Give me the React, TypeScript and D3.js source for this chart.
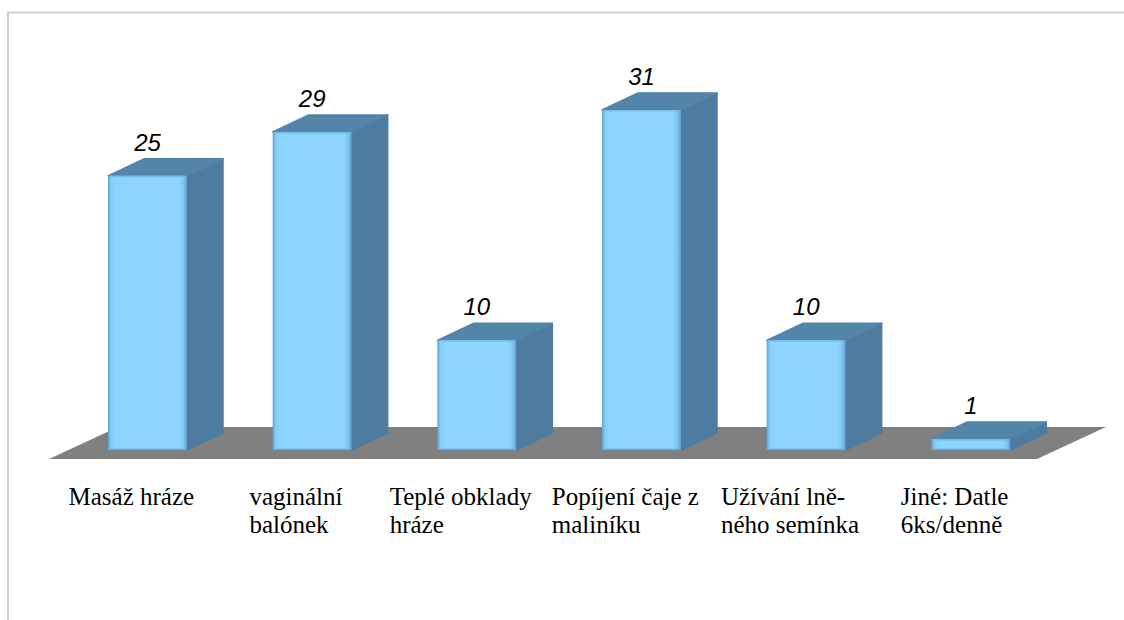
import React from "react";
import * as d3 from "d3";

// categories (wrapped lines as in the chart) and values
const categories = [
  ["Masáž hráze"],
  ["vaginální", "balónek"],
  ["Teplé obklady", "hráze"],
  ["Popíjení čaje z", "maliníku"],
  ["Užívání lně-", "ného semínka"],
  ["Jiné: Datle", "6ks/denně"],
];
const values = [25, 29, 10, 31, 10, 1];

const W = 1124;
const H = 620;

// floor + bar geometry
const floorFrontY = 459, floorBackY = 427;
const floorLeft = 49, floorRight = 1037;
const floorDx = 69;
const depthDx = 36, depthDy = 17;
const barShift = 19;
const barOffset = 40, barW = 79;

const LABEL_FONT = "Liberation Serif";
const LABEL_SIZE = 25;

const idx = categories.map((_, i) => String(i));
const x = d3.scaleBand().domain(idx).range([floorLeft, floorRight]);
const y = d3.scaleLinear().domain([0, 31]).range([450, 110]);

// measure with a canvas so the svg text is never laid out early
function textWidth(s: string) {
  const c = document.createElement("canvas").getContext("2d");
  if (!c) return s.length * LABEL_SIZE * 0.45;
  c.font = `${LABEL_SIZE}px "${LABEL_FONT}"`;
  return c.measureText(s).width;
}

export default function App() {
  const floor = `M${floorLeft},${floorFrontY}L${floorRight},${floorFrontY}L${floorRight + floorDx},${floorBackY}L${floorLeft + floorDx},${floorBackY}Z`;

  return (
    <svg width={W} height={H} style={{ position: "absolute", left: 0, top: 0, background: "#fff" }}>
      <defs>
        <linearGradient id="front" x1="0" x2="1" y1="0" y2="0">
          <stop offset="0%" stopColor="#5aa3d8" />
          <stop offset="4%" stopColor="#86cdf8" />
          <stop offset="10%" stopColor="#8dd4fe" />
          <stop offset="90%" stopColor="#8dd4fe" />
          <stop offset="96%" stopColor="#80c4ee" />
          <stop offset="100%" stopColor="#5c9cc9" />
        </linearGradient>
      </defs>
      <rect x={8} y={12.5} width={1300} height={800} fill="#fff" stroke="#d0d0d0" strokeWidth={2} />
      <path d={floor} fill="#808080" />
      {values.map((v, i) => {
        const x0 = (x(String(i)) as number) + barShift + barOffset;
        const x1 = x0 + barW;
        const yt = y(v), yb = y(0);
        return (
          <g key={i}>
            <path
              d={`M${x1},${yt}L${x1 + depthDx},${yt - depthDy}L${x1 + depthDx},${yb - depthDy}L${x1},${yb}Z`}
              fill="#4d7ca0" stroke="#4d7ca0" strokeWidth={1.5} strokeLinejoin="round"
            />
            <path
              d={`M${x0},${yt}L${x0 + depthDx},${yt - depthDy}L${x1 + depthDx},${yt - depthDy}L${x1},${yt}Z`}
              fill="#5384aa" stroke="#5384aa" strokeWidth={1.5} strokeLinejoin="round"
            />
            <rect x={x0} y={yt} width={barW} height={yb - yt} fill="url(#front)" />
            <line x1={x0 + 2} x2={x1 - 2} y1={yb - 0.5} y2={yb - 0.5} stroke="#62a6d6" strokeWidth={1.5} />
            <line x1={x0 + 2} x2={x1 - 2} y1={yt + 0.75} y2={yt + 0.75} stroke="#78bdea" strokeWidth={1.5} />
            <text
              x={x0 + barW / 2} y={yt - 25} textAnchor="middle"
              style={{ fontFamily: "Liberation Sans", fontStyle: "italic", fontSize: 24 }}
            >
              {v}
            </text>
          </g>
        );
      })}
      {categories.map((lines, i) => {
        const cx = (x(String(i)) as number) + x.bandwidth() / 2;
        const maxW = d3.max(lines, textWidth) || 0;
        const left = cx - maxW / 2;
        return lines.map((ln, j) => (
          <text
            key={`${i}-${j}`}
            x={left}
            y={505 + j * 28}
            style={{ fontFamily: LABEL_FONT, fontSize: LABEL_SIZE }}
          >
            {ln}
          </text>
        ));
      })}
    </svg>
  );
}
